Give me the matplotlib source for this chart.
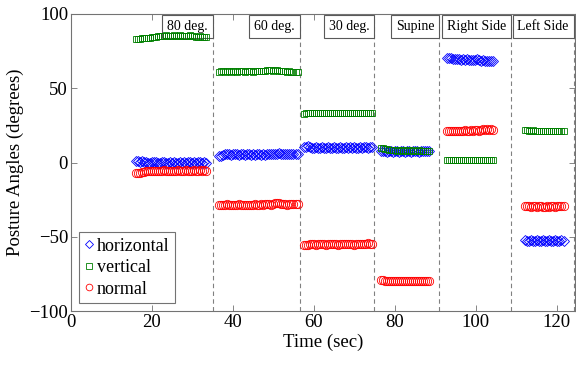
"""Posture angles per sensor axis across six body positions."""
import numpy as np
import matplotlib
matplotlib.use("Agg")
import matplotlib.pyplot as plt

plt.rcParams["font.family"] = ["Liberation Serif", "DejaVu Serif"]

# segment layout: label, start time of sampling, boundary (dashed line)
POSITIONS = ["80 deg.", "60 deg.", "30 deg.", "Supine", "Right Side", "Left Side"]
SEG_START = [16.0, 36.5, 57.5, 76.5, 92.8, 112.2]
BOUNDARIES = [35.0, 56.5, 75.0, 91.0, 108.7, 124.2]
DT = 0.5  # sample period (s)

horizontal = [
    [1.0, 1.0, 0.5, 1.0, 0.5, 0.5, 0.0, 0.0, 0.5, 0.5, 0.5, 0.0,
     0.0, 0.5, 0.5, 0.0, 0.0, 0.5, 0.0, 0.5, 0.0, 0.0, 0.5, 0.0,
     0.5, 0.0, 0.5, 0.5, 0.0, 0.5, 0.0, 0.5, 0.5, 0.0, 0.5, 0.0],
    [4.5, 4.5, 5.0, 5.5, 5.5, 5.5, 5.0, 5.5, 5.5, 5.5, 5.0, 5.5, 5.5, 5.0,
     5.5, 5.5, 5.0, 5.5, 5.0, 5.5, 5.5, 5.0, 5.5, 5.0, 5.5, 5.5, 5.5, 5.5,
     6.0, 6.0, 6.5, 6.0, 5.5, 5.5, 6.0, 6.0, 5.5, 6.0, 5.5, 6.0],
    [10.5, 10.5, 11.0, 10.5, 10.0, 10.0, 10.5, 10.0, 10.0, 10.5, 10.0, 10.0,
     10.5, 10.0, 10.0, 10.5, 10.0, 10.0, 10.5, 10.0, 10.0, 10.5, 10.0, 10.5,
     10.0, 10.5, 10.0, 10.0, 10.5, 10.0, 10.5, 10.5, 10.0, 10.5, 10.5],
    [7.5, 8.0, 7.5, 7.0, 7.5, 7.5, 7.0, 7.5, 7.5, 7.0, 7.5, 7.5, 7.0,
     7.5, 7.5, 7.0, 7.5, 7.5, 7.5, 7.0, 7.5, 7.5, 7.5, 7.5, 7.5],
    [70.0, 70.0, 70.5, 69.5, 69.5, 69.5, 69.5, 69.0, 69.5, 69.0, 69.5, 69.0,
     69.0, 69.0, 69.0, 69.5, 69.0, 68.5, 69.0, 68.5, 68.5, 68.5, 68.0, 68.0],
    [-52.0, -52.5, -52.5, -52.0, -52.5, -52.5, -52.0, -52.5, -52.5, -52.0,
     -52.5, -52.5, -52.0, -52.5, -52.5, -52.0, -52.5, -52.5, -52.0, -52.5],
]
vertical = [
    [83.0, 83.0, 83.0, 83.5, 83.5, 83.5, 84.0, 84.0, 84.5, 84.5, 84.5, 85.0,
     85.0, 85.0, 85.0, 85.5, 85.0, 85.0, 85.0, 85.5, 85.0, 85.0, 85.5, 85.0,
     85.0, 85.0, 85.0, 85.5, 85.0, 85.0, 84.5, 84.5, 85.0, 84.5, 84.5, 84.5],
    [61.0, 61.5, 61.5, 61.0, 61.5, 61.5, 61.0, 61.5, 61.5, 61.0, 61.5, 61.5,
     61.5, 61.0, 61.5, 61.5, 61.5, 61.0, 61.5, 61.5, 61.5, 61.5, 61.5, 61.5,
     62.0, 62.0, 62.0, 61.5, 62.0, 62.0, 61.5, 61.5, 61.5, 61.5, 61.0, 61.5,
     61.0, 61.0, 61.0, 61.0],
    [32.5, 33.0, 33.0, 33.0, 33.0, 33.5, 33.0, 33.0, 33.0, 33.5, 33.0, 33.0,
     33.0, 33.5, 33.0, 33.0, 33.0, 33.5, 33.0, 33.0, 33.5, 33.0, 33.0, 33.5,
     33.5, 33.0, 33.5, 33.5, 33.5, 33.5, 33.5, 33.5, 33.5, 33.5, 33.5],
    [9.5, 9.5, 9.0, 9.0, 8.5, 8.5, 8.5, 8.5, 8.0, 8.5, 8.5, 8.0, 8.5,
     8.0, 8.5, 8.0, 8.5, 8.0, 8.0, 8.5, 8.0, 8.0, 8.0, 8.0, 8.0],
    [1.5, 1.5, 1.5, 1.5, 2.0, 1.5, 1.5, 1.5, 1.5, 2.0, 1.5, 1.5, 1.5, 1.5,
     1.5, 2.0, 1.5, 1.5, 1.5, 1.5, 1.5, 2.0, 1.5, 1.5],
    [22.0, 22.0, 21.5, 21.5, 22.0, 21.5, 21.5, 21.5, 21.5, 21.0, 21.5, 21.0,
     21.5, 21.0, 21.0, 21.5, 21.0, 21.0, 21.0, 21.0],
]
normal = [
    [-7.0, -7.0, -7.0, -6.5, -6.5, -6.0, -6.0, -6.0, -5.5, -5.5, -6.0, -6.0,
     -5.5, -5.5, -5.0, -5.5, -5.5, -6.0, -5.5, -5.5, -5.5, -5.0, -5.5, -5.5,
     -5.5, -5.0, -5.5, -5.5, -5.5, -5.0, -5.5, -5.5, -5.0, -5.5, -5.0, -5.5],
    [-28.5, -28.5, -28.5, -28.5, -28.0, -28.5, -28.5, -28.5, -28.5, -28.5,
     -28.0, -28.5, -28.5, -28.5, -28.5, -28.5, -28.5, -28.5, -28.0, -28.5,
     -28.5, -28.0, -28.5, -28.0, -28.0, -28.0, -28.5, -28.0, -27.5, -27.5,
     -27.5, -28.0, -28.0, -28.0, -28.5, -28.0, -28.0, -28.0, -28.0, -28.0],
    [-55.5, -55.5, -55.5, -55.0, -55.0, -55.0, -55.5, -55.0, -55.0, -55.0,
     -55.0, -55.5, -55.0, -55.0, -55.0, -55.0, -55.0, -55.5, -55.0, -55.0,
     -55.0, -55.0, -55.0, -55.0, -55.0, -55.5, -55.0, -55.0, -55.0, -55.0,
     -55.0, -55.0, -54.5, -55.0, -55.0],
    [-79.0, -79.0, -79.5, -79.5, -79.5, -80.0, -79.5, -79.5, -79.5, -79.5,
     -80.0, -79.5, -79.5, -79.5, -79.5, -79.5, -79.5, -79.5, -79.5, -79.5,
     -79.5, -79.5, -79.5, -79.5, -79.5],
    [21.0, 21.0, 21.0, 21.5, 21.0, 21.5, 21.5, 21.5, 21.5, 22.0, 21.5, 21.5,
     22.0, 21.5, 22.0, 22.0, 21.5, 22.0, 22.5, 22.0, 22.5, 22.0, 22.5, 22.0],
    [-29.5, -29.5, -29.5, -30.0, -29.5, -29.5, -30.0, -29.5, -29.5, -30.0,
     -30.0, -29.5, -30.0, -29.5, -29.5, -30.0, -29.5, -29.5, -29.5, -29.5],
]

SERIES = [
    ("horizontal", horizontal, "D", "b", 4.8),
    ("vertical", vertical, "s", (0, 0.5, 0), 4.8),
    ("normal", normal, "o", "r", 6.0),
]

fig = plt.figure(figsize=(5.76, 3.66), dpi=100)
ax = fig.add_axes([0.123, 0.150, 0.875, 0.812])

for name, segs, mk, col, ms in SERIES:
    t = np.concatenate([s0 + DT * np.arange(len(v)) for s0, v in zip(SEG_START, segs)])
    y = np.concatenate(segs)
    ax.plot(t, y, ls="none", marker=mk, ms=ms, mfc="none", mec=col,
            mew=0.6, label=name, zorder=3)

for b, lab in zip(BOUNDARIES, POSITIONS):
    ax.axvline(b, color="0.5", ls=(0, (4, 3)), lw=0.8, zorder=0)
    ax.annotate(lab, xy=(b, 1), xycoords=("data", "axes fraction"),
                xytext=(-3.5, -4.5), textcoords="offset points",
                ha="right", va="top", fontsize=10, zorder=2,
                bbox=dict(boxstyle="square,pad=0.35", fc="white",
                          ec="0.35", lw=0.8))

ax.set_xlim(0, 124.5)
ax.set_ylim(-100, 100)
ax.set_xticks([0, 20, 40, 60, 80, 100, 120])
ax.set_yticks([-100, -50, 0, 50, 100])
ax.set_xlabel("Time (sec)", fontsize=13.5, labelpad=2)
ax.set_ylabel("Posture Angles (degrees)", fontsize=13.5, labelpad=4)
ax.tick_params(direction="in", length=4, width=0.6, color="0.45",
               labelsize=13.5, top=True, right=True, pad=2)
for sp in ax.spines.values():
    sp.set_color("0.45")
    sp.set_linewidth(0.8)

leg = ax.legend(loc="lower left", bbox_to_anchor=(0.016, 0.027),
                fontsize=13, handlelength=0.5, handletextpad=0.2,
                borderaxespad=0, borderpad=0.3, labelspacing=0.25,
                markerscale=0.8, fancybox=False, framealpha=1)
leg.get_frame().set_edgecolor("0.45")
leg.get_frame().set_linewidth(0.8)
leg.set_zorder(5)

fig.savefig("out.png", dpi=100)
